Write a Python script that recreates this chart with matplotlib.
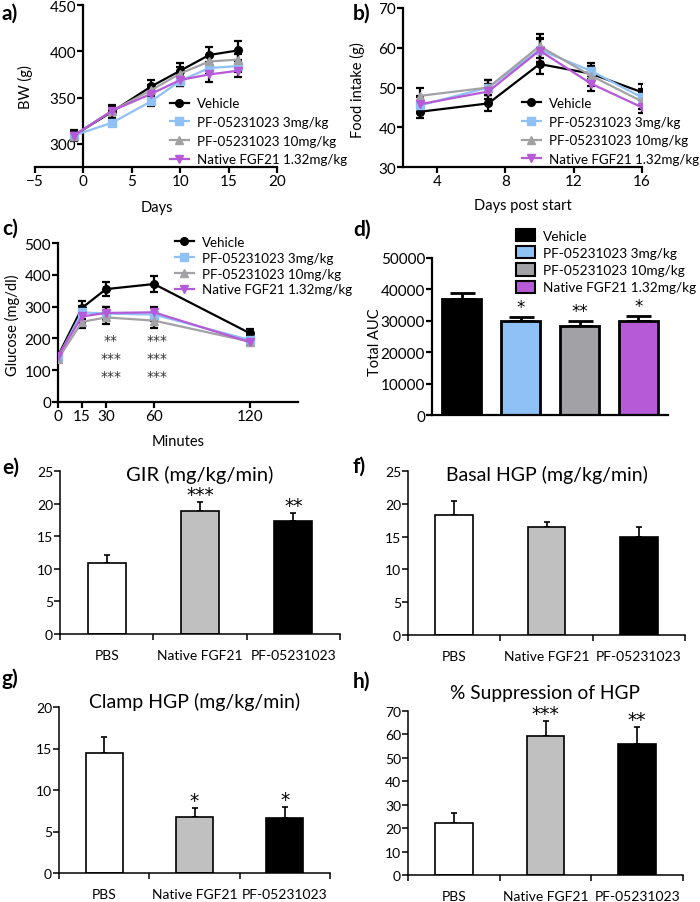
import matplotlib
matplotlib.use('agg')
from matplotlib import pyplot as plt
from matplotlib.patches import Patch
import numpy as np

plt.rcParams['font.family'] = ['Lato', 'DejaVu Sans']

# ---- data ----
groups = ['Vehicle', 'PF-05231023 3mg/kg', 'PF-05231023 10mg/kg', 'Native FGF21 1.32mg/kg']
colors = ['black', '#8fc0f6', '#a2a2a6', '#b65ad8']
markers = ['o', 's', '^', 'v']

bw_days = [-1, 3, 7, 10, 13, 16]
bw_mean = [[309, 335, 362, 379, 396, 401],
           [309, 323, 346, 368, 382, 384],
           [309, 336, 358, 376, 389, 391],
           [309, 336, 354, 369, 375, 379]]
bw_sem = [[6, 7, 7, 8, 9, 10],
          [4, 4, 5, 6, 6, 6],
          [4, 5, 6, 7, 6, 6],
          [4, 5, 6, 7, 8, 7]]

fi_days = [3, 7, 10, 13, 16]
fi_mean = [[43.9, 46.0, 55.9, 53.5, 48.8],
           [45.5, 50.0, 59.5, 54.2, 47.5],
           [47.9, 50.0, 60.4, 53.0, 46.5],
           [45.8, 49.0, 59.3, 51.0, 45.0]]
fi_sem = [[1.5, 2.0, 2.5, 2.0, 2.0],
          [2.0, 2.0, 3.0, 2.0, 2.0],
          [2.0, 2.0, 3.0, 2.5, 2.0],
          [2.0, 2.0, 3.0, 2.0, 1.5]]

gtt_min = [0, 15, 30, 60, 120]
gtt_mean = [[145, 296, 355, 371, 216],
            [140, 282, 278, 275, 195],
            [135, 252, 266, 256, 190],
            [145, 269, 280, 282, 188]]
gtt_sem = [[10, 22, 22, 25, 15],
           [8, 20, 20, 20, 12],
           [8, 20, 20, 22, 10],
           [8, 20, 20, 18, 10]]

auc_mean = [37100, 30000, 28300, 30000]
auc_sem = [1700, 1200, 1500, 1500]
auc_stars = ['', '*', '**', '*']

clamp_groups = ['PBS', 'Native FGF21', 'PF-05231023']
clamp_colors = ['white', '#c0c0c0', 'black']
gir_mean = [10.9, 18.8, 17.3]
gir_sem = [1.2, 1.4, 1.2]
gir_stars = ['', '***', '**']
basal_mean = [18.3, 16.5, 15.0]
basal_sem = [2.1, 0.7, 1.4]
clampHGP_mean = [14.4, 6.7, 6.6]
clampHGP_sem = [2.0, 1.1, 1.3]
clampHGP_stars = ['', '*', '*']
supp_mean = [22.3, 59.5, 55.8]
supp_sem = [4.0, 6.2, 7.3]
supp_stars = ['', '***', '**']

W, H = 700, 903
fig = plt.figure(figsize=(7, 9.03), dpi=100)
STAR = ['DejaVu Sans']

def box(x0, x1, y0, y1):
    return [x0 / W, 1 - y1 / H, (x1 - x0) / W, (y1 - y0) / H]

def style(ax, lw=1.6, fs=11):
    for s in ['top', 'right']:
        ax.spines[s].set_visible(False)
    for s in ['left', 'bottom']:
        ax.spines[s].set_linewidth(lw)
    ax.tick_params(width=lw, length=4, labelsize=fs, pad=1)

def lines(ax, x, means, sems):
    for m, e, c, mk, g in zip(means, sems, colors, markers, groups):
        ax.plot(x, m, color=c, marker=mk, ms=5.5, lw=1.6, label=g, zorder=3)
        ax.errorbar(x, m, yerr=e, fmt='none', ecolor='black', elinewidth=1.6,
                    capsize=3, capthick=1.6, zorder=2)

def leg(ax, x, y, fs=9.6, ls=0.5):
    ax.legend(loc='upper left', bbox_to_anchor=(x, y), frameon=False, fontsize=fs,
              borderpad=0, borderaxespad=0, handlelength=1.4, handletextpad=0.6,
              labelspacing=ls)

# a) body weight
ax = fig.add_axes(box(35, 277, 6, 168))
style(ax)
lines(ax, bw_days, bw_mean, bw_sem)
ax.spines['left'].set_position(('data', 0))
ax.set_xlim(-5, 20)
ax.set_ylim(275, 450)
ax.set_xticks([-5, 0, 5, 10, 15, 20])
ax.set_yticks([300, 350, 400, 450])
ax.set_ylabel('BW (g)', fontsize=10.5)
ax.yaxis.set_label_coords(-0.008, 0.5)
ax.set_xlabel('Days', fontsize=10.5)
ax.xaxis.set_label_coords(0.504, -0.205)
leg(ax, 0.558, 0.43)

# b) food intake
ax = fig.add_axes(box(403, 642, 9, 168))
style(ax)
lines(ax, fi_days, fi_mean, fi_sem)
ax.set_xlim(2, 16)
ax.set_ylim(30, 70)
ax.set_xticks([4, 8, 12, 16])
ax.set_yticks([30, 40, 50, 60, 70])
ax.set_ylabel('Food intake (g)', fontsize=10.5)
ax.yaxis.set_label_coords(-0.159, 0.49)
ax.set_xlabel('Days post start', fontsize=10.5)
ax.xaxis.set_label_coords(0.502, -0.195)
leg(ax, 0.498, 0.44)

# c) glucose tolerance
ax = fig.add_axes(box(58, 298, 244, 403))
style(ax)
lines(ax, gtt_min, gtt_mean, gtt_sem)
ax.set_xlim(0, 150)
ax.set_ylim(0, 500)
ax.set_xticks([0, 15, 30, 60, 120])
ax.set_yticks([0, 100, 200, 300, 400, 500])
ax.set_ylabel('Glucose (mg/dl)', fontsize=10.5)
ax.yaxis.set_label_coords(-0.158, 0.49)
ax.set_xlabel('Minutes', fontsize=10.5)
ax.xaxis.set_label_coords(0.5, -0.2)
leg(ax, 0.4875, 1.045, ls=0.29)
for xs, stars in [(33, ['**', '***', '***']), (62, ['***', '***', '***'])]:
    for yv, st in zip([195, 138, 82], stars):
        ax.text(xs, yv, st, ha='center', va='center', fontsize=10, color='#333333',
                family=STAR)

# d) AUC
ax = fig.add_axes(box(432, 668, 259, 416))
style(ax)
xb = np.arange(4)
ax.bar(xb, auc_mean, width=0.66, color=colors, edgecolor='black', linewidth=2, zorder=2)
ax.errorbar(xb, auc_mean, yerr=[np.zeros(4), auc_sem], fmt='none', ecolor='black',
            elinewidth=2, capsize=9, capthick=2, zorder=1)
for x, m, e, s in zip(xb, auc_mean, auc_sem, auc_stars):
    if s:
        ax.text(x, m + e + 300, s, ha='center', va='bottom', fontsize=12, family=STAR)
ax.set_xlim(-0.5, 3.5)
ax.set_ylim(0, 50000)
ax.set_xticks([])
ax.set_yticks(np.arange(0, 50001, 10000))
ax.set_ylabel('Total AUC', fontsize=10.5)
ax.yaxis.set_label_coords(-0.212, 0.47)
handles = [Patch(facecolor=c, edgecolor='black', linewidth=1.5) for c in colors]
ax.legend(handles, groups, loc='upper left', bbox_to_anchor=(0.356, 1.185), frameon=False,
          fontsize=9.8, borderpad=0, borderaxespad=0, handlelength=1.4, handleheight=1.0,
          handletextpad=0.6, labelspacing=0.33)

# e-h) clamp bars
def clamp(rect, means, sems, stars, ymax, step, title, title_y, tfs=14.5):
    ax = fig.add_axes(rect)
    style(ax, lw=1.1, fs=10)
    xb = np.arange(3)
    ax.bar(xb, means, width=0.41, color=clamp_colors, edgecolor='black', linewidth=1.2, zorder=2)
    ax.errorbar(xb, means, yerr=[np.zeros(3), sems], fmt='none', ecolor='black',
                elinewidth=1.2, capsize=2, capthick=1.2, zorder=1)
    for x, m, e, s in zip(xb, means, sems, stars):
        if s:
            ax.text(x, m + e + ymax * 0.012, s, ha='center', va='baseline', fontsize=13.5,
                    family=STAR)
    ax.set_xlim(-0.5, 2.5)
    ax.set_ylim(0, ymax)
    ax.set_yticks(np.arange(0, ymax + 0.1, step))
    ax.set_xticks([-0.5, 0.5, 1.5, 2.5])
    ax.set_xticklabels([])
    ax.set_xticks(xb, minor=True)
    ax.set_xticklabels(clamp_groups, minor=True, fontsize=10)
    ax.tick_params(axis='x', which='minor', length=0, pad=11)
    ax.tick_params(axis='x', which='major', length=4)
    ax.text(0.5, title_y, title, transform=ax.transAxes, ha='center', va='center',
            fontsize=tfs)
    return ax

clamp(box(60, 340, 472, 635), gir_mean, gir_sem, gir_stars, 25, 5, 'GIR (mg/kg/min)', 0.98)
clamp(box(408, 685, 472, 636), basal_mean, basal_sem, ['', '', ''], 25, 5, 'Basal HGP (mg/kg/min)', 0.982, 14)
clamp(box(59, 330, 708, 874), clampHGP_mean, clampHGP_sem, clampHGP_stars, 20, 5, 'Clamp HGP (mg/kg/min)', 1.036, 14)
clamp(box(408, 683, 712, 876), supp_mean, supp_sem, supp_stars, 70, 10, '% Suppression of HGP', 1.11, 13.8)

# panel letters
for lab, x, y in [('a)', 2, 14), ('b)', 353, 14), ('c)', 2, 229), ('d)', 353, 230),
                  ('e)', 2, 468), ('f)', 353, 467), ('g)', 2, 679), ('h)', 353, 682)]:
    fig.text(x / W, 1 - y / H, lab, fontsize=15, fontweight='bold', va='center', ha='left')

fig.savefig('out.png', dpi=100)
